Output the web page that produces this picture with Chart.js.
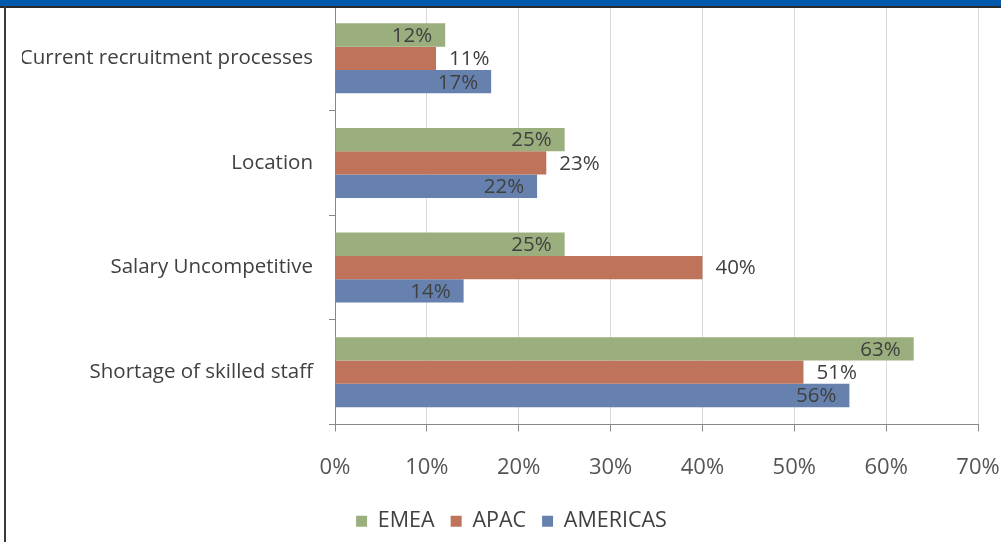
<!DOCTYPE html>
<html>
<head>
<meta charset="utf-8">
<script src="https://cdn.jsdelivr.net/npm/chart.js@4.4.1/dist/chart.umd.min.js"></script>
<style>
  body { margin: 0; background: #fff; }
  #wrap { position: relative; width: 1001px; height: 542px; overflow: hidden; }
  #head { position: absolute; left: 0; top: 0; width: 1001px; height: 6px; background: #0059aa; border-bottom: 2px solid #2a2a2a; z-index: 2; }
  #side { position: absolute; left: 4px; top: 6px; width: 2px; height: 536px; background: #3a3a3a; z-index: 2; }
  canvas { position: absolute; left: 0; top: 0; }
</style>
</head>
<body>
<div id="wrap">
  <div id="head"></div>
  <div id="side"></div>
  <canvas id="myChart" width="1001" height="542"></canvas>
</div>
<script>
const categories = ["Current recruitment processes", "Location", "Salary Uncompetitive", "Shortage of skilled staff"];
const emea = [12, 25, 25, 63];
const apac = [11, 23, 40, 51];
const americas = [17, 22, 14, 56];
const xTicks = [0, 10, 20, 30, 40, 50, 60, 70];

const FONT = "Open Sans";

// labels inside the bar end for EMEA / AMERICAS, outside for APAC
const barLabels = {
  id: "barLabels",
  afterDatasetsDraw(chart) {
    const ctx = chart.ctx;
    ctx.save();
    ctx.font = "20.5px " + FONT;
    ctx.fillStyle = "#404040";
    ctx.textBaseline = "middle";
    chart.data.datasets.forEach((ds, i) => {
      const meta = chart.getDatasetMeta(i);
      meta.data.forEach((bar, j) => {
        const txt = ds.data[j] + "%";
        if (ds.label === "APAC") {
          ctx.textAlign = "left";
          ctx.fillText(txt, bar.x + 13, bar.y + 1);
        } else {
          ctx.textAlign = "right";
          ctx.fillText(txt, bar.x - 13, bar.y + 1);
        }
      });
    });
    ctx.restore();
  }
};

const barCanvas = document.getElementById("myChart");
const barChart = new Chart(barCanvas, {
  type: "bar",
  data: {
    labels: categories,
    datasets: [
      { label: "EMEA", data: emea, backgroundColor: "#9baf7e" },
      { label: "APAC", data: apac, backgroundColor: "#be735a" },
      { label: "AMERICAS", data: americas, backgroundColor: "#6681ae" }
    ]
  },
  options: {
    indexAxis: "y",
    responsive: false,
    animation: false,
    categoryPercentage: 0.67,
    barPercentage: 1.0,
    layout: {
      padding: { top: 6, right: 0, left: 22, bottom: 0 }
    },
    scales: {
      x: {
        min: 0,
        max: 70,
        afterBuildTicks: (axis) => { axis.ticks = xTicks.map(v => ({ value: v })); },
        ticks: {
          color: "#555",
          font: { family: FONT, size: 22 },
          padding: 23,
          callback: (v) => v + "%"
        },
        grid: {
          color: "#d9d9d9",
          tickColor: "#888",
          tickLength: 7
        },
        border: { display: true, color: "#888" },
        afterFit: (axis) => { axis.height = 70; axis.paddingRight = 23; axis.paddingLeft = 0; }
      },
      y: {
        ticks: {
          color: "#404040",
          font: { family: FONT, size: 20.5 },
          padding: 16
        },
        grid: {
          drawOnChartArea: false,
          tickColor: "#888",
          tickLength: 6
        },
        border: { display: true, color: "#888" },
        afterFit: (axis) => { axis.width = 313; axis.paddingTop = 0; axis.paddingBottom = 0; }
      }
    },
    plugins: {
      legend: {
        position: "bottom",
        labels: {
          color: "#404040",
          font: { family: FONT, size: 21.5 },
          boxWidth: 11,
          boxHeight: 11,
          padding: 16
        }
      },
      tooltip: { enabled: false }
    }
  },
  plugins: [barLabels]
});
</script>
</body>
</html>
